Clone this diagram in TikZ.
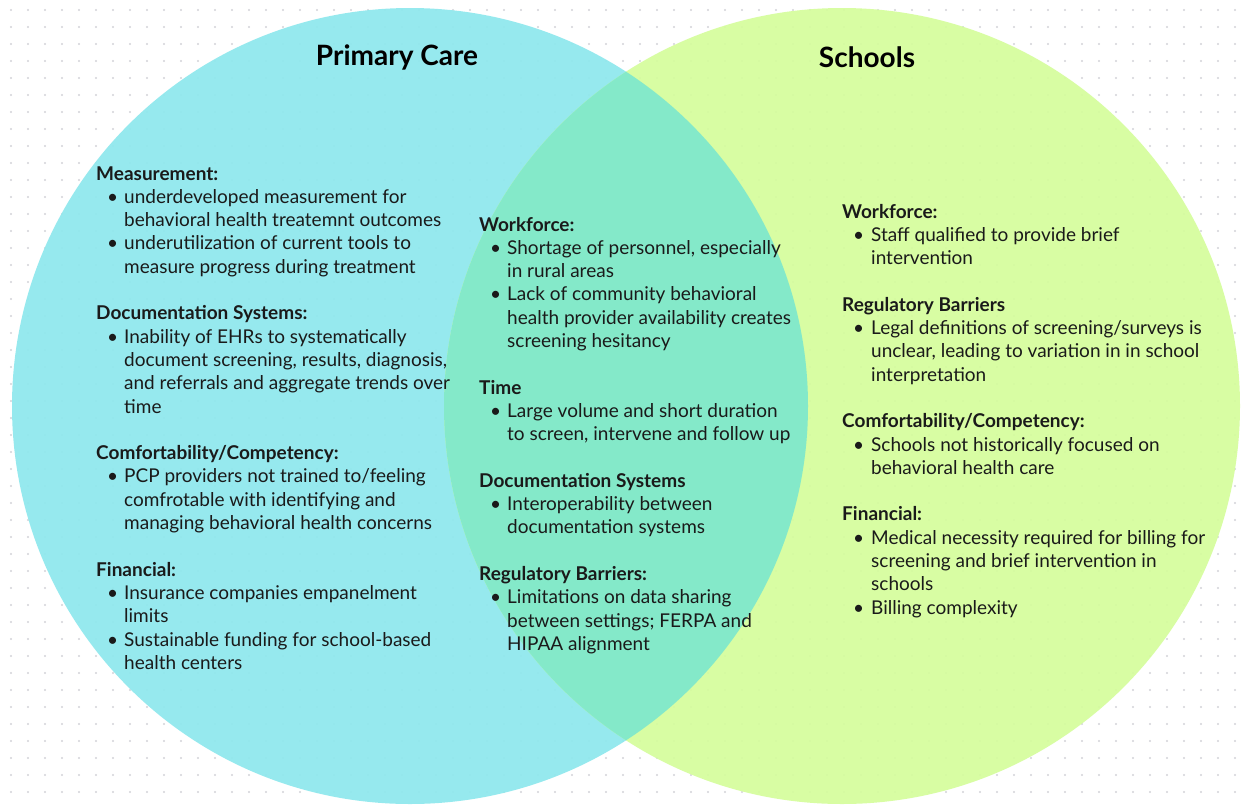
\documentclass[tikz,border=0pt]{standalone}
\usepackage{fontspec}
\setmainfont{Lato}
\usetikzlibrary{positioning}

\definecolor{pcCyan}{HTML}{8EE8ED}
\definecolor{schLime}{HTML}{D5FD9C}
\definecolor{bothMint}{HTML}{80E9CC}
\definecolor{dotGray}{HTML}{D2D2D8}
\definecolor{inkText}{HTML}{1A1A1A}

% rows of the lists: heading, bullet line, follow-on line, blank line
\newcommand\hdr[1]{\multicolumn{2}{@{}l@{}}{\bfseries #1}\\}
\newcommand\bul[1]{\hspace{11pt}\textbullet & #1\\}
\newcommand\nxt[1]{& #1\\}
\newcommand\gap{\multicolumn{2}{@{}l@{}}{}\\}

\tikzset{
  listbox/.style={anchor=base west, inner sep=0pt, text=inkText,
    font=\fontsize{19}{23.3}\selectfont},
  titlebox/.style={inner sep=0pt, text=black,
    font=\fontsize{28}{32}\selectfont\bfseries},
}

\begin{document}
\begin{tikzpicture}[x=1pt,y=-1pt]
\useasboundingbox (0,0) rectangle (1248,804);
\fill[white] (0,0) rectangle (1248,804);

%Dotted background
\foreach \i in {0,...,72}
  \foreach \j in {0,...,46}
    \fill[dotGray] (11+17*\i,10+17*\j) circle[radius=1.1pt];

%Shape: Circle (primary care)
\fill[pcCyan, fill opacity=0.92] (410,406) circle[radius=398pt];
%Shape: Circle (schools)
\fill[schLime, fill opacity=0.92] (842,406) circle[radius=398pt];
%Shape: Lens (overlap)
\begin{scope}
  \clip (410,406) circle[radius=398pt];
  \fill[bothMint, fill opacity=0.95] (842,406) circle[radius=398pt];
\end{scope}

% Text Node
\node[titlebox] (pcTitle) at (397,57) {Primary Care};
% Text Node
\node[titlebox] (schTitle) at (867,57) {Schools};

% Text Node
\node[listbox] (pcList) at (96,180) {%
\begin{tabular}[t]{@{}p{28pt}@{}l@{}}
\hdr{Measurement:}
\bul{underdeveloped measurement for}
\nxt{behavioral health treatemnt outcomes}
\bul{underutilization of current tools to}
\nxt{measure progress during treatment}
\gap
\hdr{Documentation Systems:}
\bul{Inability of EHRs to systematically}
\nxt{document screening, results, diagnosis,}
\nxt{and referrals and aggregate trends over}
\nxt{time}
\gap
\hdr{Comfortability/Competency:}
\bul{PCP providers not trained to/feeling}
\nxt{comfrotable with identifying and}
\nxt{managing behavioral health concerns}
\gap
\hdr{Financial:}
\bul{Insurance companies empanelment}
\nxt{limits}
\bul{Sustainable funding for school-based}
\nxt{health centers}
\end{tabular}};

% Text Node
\node[listbox] (bothList) at (479,231) {%
\begin{tabular}[t]{@{}p{28pt}@{}l@{}}
\hdr{Workforce:}
\bul{Shortage of personnel, especially}
\nxt{in rural areas}
\bul{Lack of community behavioral}
\nxt{health provider availability creates}
\nxt{screening hesitancy}
\gap
\hdr{Time}
\bul{Large volume and short duration}
\nxt{to screen, intervene and follow up}
\gap
\hdr{Documentation Systems}
\bul{Interoperability between}
\nxt{documentation systems}
\gap
\hdr{Regulatory Barriers:}
\bul{Limitations on data sharing}
\nxt{between settings; FERPA and}
\nxt{HIPAA alignment}
\end{tabular}};

% Text Node
\node[listbox] (schList) at (842,218) {%
\begin{tabular}[t]{@{}p{29pt}@{}l@{}}
\hdr{Workforce:}
\bul{Staff qualified to provide brief}
\nxt{intervention}
\gap
\hdr{Regulatory Barriers}
\bul{Legal definitions of screening/surveys is}
\nxt{unclear, leading to variation in in school}
\nxt{interpretation}
\gap
\hdr{Comfortability/Competency:}
\bul{Schools not historically focused on}
\nxt{behavioral health care}
\gap
\hdr{Financial:}
\bul{Medical necessity required for billing for}
\nxt{screening and brief intervention in}
\nxt{schools}
\bul{Billing complexity}
\end{tabular}};

\end{tikzpicture}
\end{document}
